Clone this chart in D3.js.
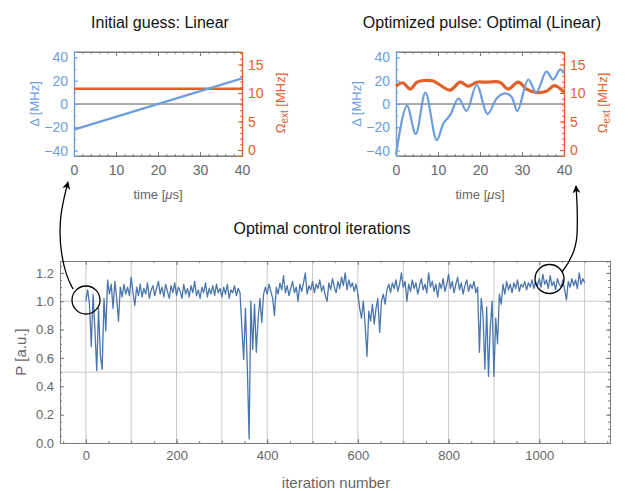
<!DOCTYPE html>
<html>
<head>
<meta charset="utf-8">
<script src="https://cdn.jsdelivr.net/npm/d3@7"></script>
<style>
body{margin:0;background:#fff;}
text{font-family:"Liberation Sans",Arial,sans-serif;}
</style>
</head>
<body>
<main></main>
<script>
// initial guess (linear sweep)
var initTime = [0, 40];
var initDelta = [-22, 22];
var initOmega = [10.75, 10.75];

// optimized pulse
var optTime = [0, 2.6, 4.7, 7.0, 9.7, 11.3, 12.9, 14.9, 16.8, 19.2, 21.8, 24.0, 25.9, 27.5, 28.9, 31.5, 33.4, 35.8, 37.4, 39.1, 40];
var optDelta = [-43.7, -1.4, -25.7, 9.7, -30.9, -16.6, -9.4, 4.9, -6, 16.3, -8.6, 4.9, 9.1, 6.3, -6, 21, 10, 27.7, 21, 29.7, 26.3];
var optOmegaTime = [0, 1.6, 3.4, 5, 6.6, 8.9, 10.9, 12.9, 15.3, 17.2, 19.2, 21.6, 24.7, 26.7, 29.1, 31.1, 33.4, 35.8, 37.8, 40];
var optOmega = [11.2, 11.8, 10.7, 11.9, 12.2, 12.1, 11.2, 10.5, 11.9, 11.2, 11.9, 11.9, 11.9, 10.7, 11.9, 10.7, 10.1, 10.3, 11.3, 10.1];

// optimal control iterations, every 4th iteration
var iterStep = 4;
var power = [
1.00,1.08,0.98,0.68,1.05,0.80,0.51,0.95,0.62,0.52,1.02,0.79,1.15,1.05,1.12,0.95,1.14,1.02,0.86,1.10,1.03,1.12,1.05,1.10,1.04,
1.17,1.06,0.97,1.10,1.04,1.12,1.03,1.09,1.05,1.13,1.02,1.08,1.11,1.04,1.09,1.14,1.05,1.10,1.03,1.12,1.07,1.02,1.11,1.06,1.13,
1.04,1.10,1.07,1.02,1.12,1.05,1.09,1.03,1.11,1.06,1.14,1.04,1.08,1.02,1.10,1.06,1.13,1.03,1.09,1.05,1.11,1.04,1.12,1.06,1.09,
1.03,1.10,1.05,1.12,1.02,1.08,1.06,1.11,1.04,1.09,1.06,0.82,0.59,0.95,0.55,0.03,1.00,0.66,0.98,0.64,0.88,1.02,0.85,1.05,1.10,
1.05,1.12,1.07,1.02,0.90,1.10,1.05,1.13,1.08,1.18,1.06,1.11,1.04,1.09,1.14,1.06,1.10,1.00,1.12,1.07,1.13,1.20,1.05,1.11,1.08,
1.14,1.06,1.12,1.09,1.15,1.07,1.11,1.04,1.00,1.13,1.08,1.16,1.10,1.06,1.14,1.09,1.17,1.11,1.20,1.08,1.15,1.10,1.13,1.07,1.12,
1.05,0.95,0.88,1.00,0.83,0.61,0.93,0.86,0.98,0.84,0.95,1.02,0.78,1.00,1.05,0.98,1.08,1.12,1.06,1.13,1.09,1.15,1.07,1.12,1.20,
1.10,1.14,1.00,1.12,1.07,1.15,1.09,1.13,1.05,1.11,1.16,1.08,1.12,1.06,1.20,1.10,1.14,1.07,1.12,1.03,1.13,1.09,1.16,1.07,1.12,
1.19,1.09,1.14,1.06,1.12,1.17,1.08,1.13,1.05,1.11,1.15,1.07,1.12,1.09,1.14,1.06,1.10,0.64,1.02,0.90,0.52,0.96,0.47,0.82,1.00,
0.47,0.88,0.70,1.05,0.98,1.12,1.05,1.14,1.08,1.12,1.06,1.13,1.09,1.15,1.07,1.12,1.10,1.14,1.08,1.13,1.10,1.15,1.09,1.14,1.11,
1.16,1.10,1.19,1.12,1.15,1.09,1.18,1.11,1.14,1.08,1.16,1.12,1.10,1.15,1.08,1.01,1.14,1.10,1.16,1.11,1.15,1.09,1.20,1.12,1.16,1.13
];

var xTicksTop = [0, 10, 20, 30, 40];
var deltaTicks = [-40, -20, 0, 20, 40];
var omegaTicks = [0, 5, 10, 15];
var iterTicks = [0, 200, 400, 600, 800, 1000];
var pTicks = [0, 0.2, 0.4, 0.6, 0.8, 1.0, 1.2];

var blue = "#6d9edb", orange = "#e0612a", frameGray = "#7a7a7a", textGray = "#666";

var svg = d3.select("main").append("svg")
    .attr("width", 634)
    .attr("height", 491);

svg.append("defs").append("marker")
    .attr("id", "head")
    .attr("viewBox", "0 0 10 10")
    .attr("refX", 9).attr("refY", 5)
    .attr("markerWidth", 8).attr("markerHeight", 8)
    .attr("markerUnits", "userSpaceOnUse")
    .attr("orient", "auto")
  .append("path")
    .attr("d", "M0,0 L10,5 L0,10 L3,5 Z")
    .attr("fill", "#000");

function pulsePanel(left, title, times, delta, omegaTimes, omega, optimized){
    var right = left + 168, top = 52, bottom = 156;
    var x = d3.scaleLinear().domain([0, 40]).range([left, right]);
    var yD = d3.scaleLinear().domain([-44.6, 44.6]).range([bottom, top]);
    var yO = d3.scaleLinear().domain([-1.05, 17.2]).range([bottom, top]);
    var g = svg.append("g");

    g.append("text")
     .attr("x", (left + right) / 2 + 2).attr("y", 28)
     .attr("text-anchor", "middle").attr("font-size", 16).attr("fill", "#111")
     .text(title);

    // zero line
    g.append("line")
     .attr("x1", left).attr("x2", right)
     .attr("y1", yD(0)).attr("y2", yD(0))
     .attr("stroke", "#555").attr("stroke-width", 1);

    // frame top/bottom
    g.append("line").attr("x1", left).attr("x2", right).attr("y1", top).attr("y2", top).attr("stroke", frameGray);
    g.append("line").attr("x1", left).attr("x2", right).attr("y1", bottom).attr("y2", bottom).attr("stroke", frameGray);

    g.append("g").attr("transform", "translate(0," + bottom + ")")
     .call(d3.axisBottom(x).tickValues(d3.range(0, 41, 2)).tickSize(-2).tickFormat(""));
    g.append("g").attr("transform", "translate(0," + bottom + ")")
     .call(d3.axisBottom(x).tickValues(xTicksTop).tickSize(-4).tickPadding(9));
    g.append("g").attr("transform", "translate(0," + top + ")")
     .call(d3.axisTop(x).tickValues(d3.range(0, 41, 2)).tickSize(-2).tickFormat(""));
    g.append("g").attr("transform", "translate(0," + top + ")")
     .call(d3.axisTop(x).tickValues(xTicksTop).tickSize(-4).tickFormat(""));

    // left delta axis
    g.append("g").attr("transform", "translate(" + left + ",0)")
     .call(d3.axisLeft(yD).tickValues(d3.range(-40, 41, 10)).tickSize(-2).tickFormat(""))
     .attr("class", "dax");
    g.append("g").attr("transform", "translate(" + left + ",0)")
     .call(d3.axisLeft(yD).tickValues(deltaTicks).tickSize(-4).tickPadding(6)
        .tickFormat(d => d < 0 ? "\u2212" + Math.abs(d) : String(d)))
     .attr("class", "dax");

    // right omega axis
    g.append("g").attr("transform", "translate(" + right + ",0)")
     .call(d3.axisRight(yO).tickValues(d3.range(0, 18, 1)).tickSize(-2).tickFormat(""))
     .attr("class", "oax");
    g.append("g").attr("transform", "translate(" + right + ",0)")
     .call(d3.axisRight(yO).tickValues(omegaTicks).tickSize(-4).tickPadding(6))
     .attr("class", "oax");

    g.selectAll(".domain").attr("stroke", frameGray);
    g.selectAll(".tick line").attr("stroke", frameGray);
    g.selectAll(".tick text").attr("font-size", 14).attr("fill", textGray)
     .attr("font-family", "Liberation Sans, Arial, sans-serif");
    g.selectAll(".dax .domain").attr("stroke", blue).attr("stroke-width", 1.2);
    g.selectAll(".dax .tick line").attr("stroke", blue);
    g.selectAll(".dax .tick text").attr("fill", blue);
    g.selectAll(".oax .domain").attr("stroke", orange).attr("stroke-width", 1.2);
    g.selectAll(".oax .tick line").attr("stroke", orange);
    g.selectAll(".oax .tick text").attr("fill", orange);

    var curve = optimized ? d3.curveCatmullRom.alpha(0.5) : d3.curveLinear;
    g.append("path")
     .datum(omegaTimes.map((t, i) => [t, omega[i]]))
     .attr("fill", "none").attr("stroke", orange).attr("stroke-width", optimized ? 3.2 : 2.4)
     .attr("d", d3.line().x(d => x(d[0])).y(d => yO(d[1])).curve(curve));
    g.append("path")
     .datum(times.map((t, i) => [t, delta[i]]))
     .attr("fill", "none").attr("stroke", blue).attr("stroke-width", 2.2)
     .attr("d", d3.line().x(d => x(d[0])).y(d => yD(d[1])).curve(curve));

    g.append("text")
     .attr("transform", "translate(" + (left - 40) + "," + 104 + ") rotate(-90)")
     .attr("text-anchor", "middle").attr("dy", "0.35em")
     .attr("font-size", 13).attr("fill", blue)
     .text("\u0394 [MHz]");
    var ol = g.append("text")
     .attr("transform", "translate(" + (right + 38) + "," + 103 + ") rotate(-90)")
     .attr("text-anchor", "middle").attr("dy", "0.35em")
     .attr("font-size", 13).attr("fill", orange);
    ol.append("tspan").text("\u03A9");
    ol.append("tspan").attr("font-size", 10).attr("dy", 3).text("ext");
    ol.append("tspan").attr("dy", -3).text(" [MHz]");

    g.append("text")
     .attr("x", (left + right) / 2).attr("y", 199)
     .attr("text-anchor", "middle").attr("font-size", 13).attr("fill", textGray)
     .html("time [<tspan font-style='italic'>\u03BC</tspan>s]");
}

pulsePanel(74, "Initial guess: Linear", initTime, initDelta, initTime, initOmega, false);
pulsePanel(396, "Optimized pulse: Optimal (Linear)", optTime, optDelta, optOmegaTime, optOmega, true);

svg.append("text")
   .attr("x", 322).attr("y", 234)
   .attr("text-anchor", "middle").attr("font-size", 16).attr("fill", "#111")
   .text("Optimal control iterations");

// iterations panel
var bL = 60, bR = 610, bT = 261, bB = 443;
var xI = d3.scaleLinear().domain([-57, 1156]).range([bL, bR]);
var yP = d3.scaleLinear().domain([0, 1.284]).range([bB, bT]);
var gb = svg.append("g");

gb.selectAll(".vgrid").data(d3.range(0, 1101, 100)).enter().append("line")
  .attr("x1", d => xI(d)).attr("x2", d => xI(d))
  .attr("y1", bT).attr("y2", bB)
  .attr("stroke", "#c9c9c9").attr("stroke-width", 1);
gb.selectAll(".hgrid").data([0.5, 1.0]).enter().append("line")
  .attr("x1", bL).attr("x2", bR)
  .attr("y1", d => yP(d)).attr("y2", d => yP(d))
  .attr("stroke", "#c9c9c9").attr("stroke-width", 1);

gb.append("g").attr("class", "bax").attr("transform", "translate(0," + bB + ")")
  .call(d3.axisBottom(xI).tickValues(d3.range(-50, 1151, 50)).tickSize(-2).tickFormat(""));
gb.append("g").attr("class", "bax").attr("transform", "translate(0," + bB + ")")
  .call(d3.axisBottom(xI).tickValues(iterTicks).tickSize(-4).tickPadding(8).tickFormat(d3.format("d")));
gb.append("g").attr("class", "bax").attr("transform", "translate(0," + bT + ")")
  .call(d3.axisTop(xI).tickValues(d3.range(-50, 1151, 50)).tickSize(-2).tickFormat(""));
gb.append("g").attr("class", "bax").attr("transform", "translate(0," + bT + ")")
  .call(d3.axisTop(xI).tickValues(iterTicks).tickSize(-4).tickFormat(""));
gb.append("g").attr("class", "bax").attr("transform", "translate(" + bL + ",0)")
  .call(d3.axisLeft(yP).tickValues(d3.range(0, 1.27, 0.05)).tickSize(-2).tickFormat(""));
gb.append("g").attr("class", "bax").attr("transform", "translate(" + bL + ",0)")
  .call(d3.axisLeft(yP).tickValues(pTicks).tickSize(-4).tickPadding(6).tickFormat(d3.format(".1f")));
gb.append("g").attr("class", "bax").attr("transform", "translate(" + bR + ",0)")
  .call(d3.axisRight(yP).tickValues(d3.range(0, 1.27, 0.05)).tickSize(-2).tickFormat(""));
gb.append("g").attr("class", "bax").attr("transform", "translate(" + bR + ",0)")
  .call(d3.axisRight(yP).tickValues(pTicks).tickSize(-4).tickFormat(""));
gb.selectAll(".bax .domain").attr("stroke", frameGray);
gb.selectAll(".bax .tick line").attr("stroke", frameGray);
gb.selectAll(".bax .tick text").attr("font-size", 13).attr("fill", textGray)
  .attr("font-family", "Liberation Sans, Arial, sans-serif");

gb.append("path")
  .datum(power)
  .attr("fill", "none").attr("stroke", "#4a76ae").attr("stroke-width", 1.3)
  .attr("stroke-linejoin", "round")
  .attr("d", d3.line().x((d, i) => xI(i * iterStep)).y(d => yP(d)));

gb.append("text")
  .attr("transform", "translate(21,352) rotate(-90)")
  .attr("text-anchor", "middle").attr("dy", "0.35em")
  .attr("font-size", 15).attr("fill", textGray)
  .text("P [a.u.]");
gb.append("text")
  .attr("x", 336).attr("y", 488)
  .attr("text-anchor", "middle").attr("font-size", 15).attr("fill", textGray)
  .text("iteration number");

// circles marking the iterations shown above
svg.append("circle").attr("cx", 86).attr("cy", 300).attr("r", 14)
   .attr("fill", "none").attr("stroke", "#000").attr("stroke-width", 1.3);
svg.append("circle").attr("cx", 549.5).attr("cy", 279).attr("r", 14.5)
   .attr("fill", "none").attr("stroke", "#000").attr("stroke-width", 1.3);

// arrows
svg.append("path")
   .attr("d", "M73,289 C62,270 58,240 61,215 C63,200 66,190 68,182")
   .attr("fill", "none").attr("stroke", "#000").attr("stroke-width", 1.3)
   .attr("marker-end", "url(#head)");
svg.append("path")
   .attr("d", "M562,272 C570,262 576,250 577,235 C578,215 577,200 576,186")
   .attr("fill", "none").attr("stroke", "#000").attr("stroke-width", 1.3)
   .attr("marker-end", "url(#head)");
</script>
</body>
</html>
